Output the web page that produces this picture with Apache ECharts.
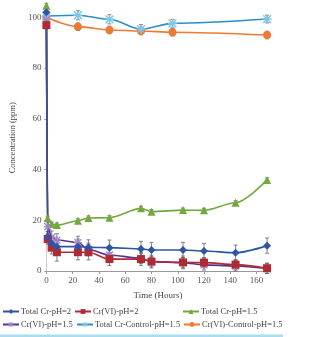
<!DOCTYPE html>
<html>
<head>
<meta charset="utf-8">
<script src="https://cdn.jsdelivr.net/npm/echarts@6/dist/echarts.min.js"></script>
<style>
  html, body { margin: 0; padding: 0; background: #fff; }
  #main { width: 313px; height: 337px; }
</style>
</head>
<body>
<div id="main"></div>
<script>
// sampling times (hours)
var hours = [0, 1, 4, 8, 24, 32, 48, 72, 80, 104, 120, 144, 168];
var hoursControl = [0, 24, 48, 72, 96, 168];

// concentrations (ppm)
var totalCrPh2 = [102, 13.5, 10.9, 9.6, 9.6, 9.3, 9.2, 8.7, 8.3, 8.3, 7.9, 7.2, 10.0];
var crVIPh2 = [96.9, 12.6, 9.2, 7.4, 7.4, 7.4, 4.7, 4.7, 3.7, 3.4, 3.3, 2.5, 1.1];
var totalCrPh15 = [104.5, 20.8, 18.5, 18.1, 19.8, 20.9, 21.0, 24.7, 23.4, 24.0, 23.9, 26.9, 35.9];
var crVIPh15 = [99, 17.5, 13.3, 12.2, 11.2, 8.5, 6.3, 5.0, 3.7, 3.3, 2.4, 2.0, 1.0];
var totalCrCtrl = [100.5, 100.8, 99.2, 95.3, 97.6, 99.3];
var crVICtrl = [100, 96.3, 95.0, 94.6, 94.1, 93.0];

// error (+/-)
var errTotalCrPh2 = [1.5, 2, 2.5, 2.5, 3, 3, 3, 3, 3, 3, 3, 3, 3];
var errCrVIPh2 = [1.5, 2, 2.5, 3.5, 3, 3, 2.5, 2.5, 2.5, 2.5, 2, 2, 2];
var errTotalCrPh15 = [1, 0.8, 0.8, 0.8, 0.8, 0.8, 0.8, 0.8, 0.8, 0.8, 0.8, 0.8, 0.8];
var errCrVIPh15 = [1.5, 2, 2.5, 2.5, 2.5, 2.5, 2, 2, 2, 2, 2, 2, 2];
var errTotalCrCtrl = [1.2, 1.8, 1.8, 1.8, 1.5, 1.5];
var errCrVICtrl = [1.2, 1.5, 1.5, 1.5, 1.5, 1.5];

var names = ['Total Cr-pH=2', 'Cr(VI)-pH=2', 'Total Cr-pH=1.5',
             'Cr(VI)-pH=1.5', 'Total Cr-Control-pH=1.5', 'Cr(VI)-Control-pH=1.5'];

var asterisk = 'path://M4.2,0H5.8V10H4.2Z M0,4.2H10V5.8H0Z M1.2,0.1L9.9,8.8L8.8,9.9L0.1,1.2Z M8.8,0.1L9.9,1.2L1.2,9.9L0.1,8.8Z';
var serif = 'Liberation Serif';

var pairs = function (xs, ys) {
    return xs.map(function (x, i) { return [x, ys[i]]; });
};
var errData = function (xs, ys, es) {
    return xs.map(function (x, i) { return [x, ys[i] - es[i], ys[i] + es[i]]; });
};
var errSeries = function (xs, ys, es) {
    return {
        type: 'custom',
        silent: true,
        z: 1,
        data: errData(xs, ys, es),
        renderItem: function (params, api) {
            var lo = api.coord([api.value(0), api.value(1)]);
            var hi = api.coord([api.value(0), api.value(2)]);
            var w = 2;
            var st = { stroke: '#666', lineWidth: 0.8 };
            return {
                type: 'group',
                children: [
                    { type: 'line', shape: { x1: lo[0], y1: lo[1], x2: hi[0], y2: hi[1] }, style: st },
                    { type: 'line', shape: { x1: lo[0] - w, y1: lo[1], x2: lo[0] + w, y2: lo[1] }, style: st },
                    { type: 'line', shape: { x1: hi[0] - w, y1: hi[1], x2: hi[0] + w, y2: hi[1] }, style: st }
                ]
            };
        }
    };
};
var lineSeries = function (name, xs, ys, color, symbol, size, markColor) {
    return {
        name: name,
        type: 'line',
        z: 3,
        smooth: 0.3,
        smoothMonotone: 'x',
        data: pairs(xs, ys),
        symbol: symbol,
        symbolSize: size,
        showAllSymbol: true,
        lineStyle: { color: color, width: 1.6 },
        itemStyle: { color: markColor || color, borderWidth: 0 }
    };
};

var legendItem = function (name, left, top) {
    return {
        data: [name],
        left: left,
        top: top,
        itemWidth: 16,
        itemHeight: 6,
        padding: 0,
        selectedMode: false,
        textStyle: { fontFamily: serif, fontSize: 8.5, color: '#444', padding: [0, 0, 0, -3] }
    };
};

var chart = echarts.init(document.getElementById('main'));
chart.setOption({
    animation: false,
    backgroundColor: '#fff',
    grid: { left: 31.7, right: 43.3, top: 4.6, bottom: 66 },
    legend: [
        legendItem(names[0], 2, 307),
        legendItem(names[1], 74, 307),
        legendItem(names[2], 182, 307),
        legendItem(names[3], 2, 320),
        legendItem(names[4], 76, 320),
        legendItem(names[5], 183, 320)
    ],
    xAxis: {
        type: 'value',
        min: 0,
        max: 170,
        interval: 20,
        name: 'Time (Hours)',
        nameLocation: 'middle',
        nameGap: 20,
        nameTextStyle: { fontFamily: serif, fontSize: 9, color: '#444' },
        axisLine: { lineStyle: { color: '#999', width: 1 } },
        axisTick: { show: true, length: 3, lineStyle: { color: '#999' } },
        axisLabel: { fontFamily: serif, fontSize: 9, color: '#555', margin: 5, showMaxLabel: false },
        splitLine: { show: false }
    },
    yAxis: {
        type: 'value',
        min: 0,
        max: 105,
        interval: 20,
        name: 'Concentration (ppm)',
        nameLocation: 'middle',
        nameGap: 29,
        nameTextStyle: { fontFamily: serif, fontSize: 8.5, color: '#444' },
        axisLine: { show: true, lineStyle: { color: '#ccc', width: 1 } },
        axisTick: { show: true, length: 2, lineStyle: { color: '#999' } },
        axisLabel: { fontFamily: serif, fontSize: 9, color: '#555', margin: 5, showMaxLabel: false },
        splitLine: { show: false }
    },
    graphic: [{
        type: 'rect',
        shape: { x: 0, y: 334.5, width: 283, height: 2.5 },
        style: { fill: '#a9dcec' }
    }],
    series: [
        errSeries(hours, totalCrPh2, errTotalCrPh2),
        errSeries(hours, crVIPh2, errCrVIPh2),
        errSeries(hours, totalCrPh15, errTotalCrPh15),
        errSeries(hours, crVIPh15, errCrVIPh15),
        errSeries(hoursControl, totalCrCtrl, errTotalCrCtrl),
        errSeries(hoursControl, crVICtrl, errCrVICtrl),
        lineSeries(names[5], hoursControl, crVICtrl, '#ec7a34', 'circle', 8),
        lineSeries(names[4], hoursControl, totalCrCtrl, '#2a8fc6', asterisk, 9, '#7ec8e6'),
        lineSeries(names[2], hours, totalCrPh15, '#72a83c', 'triangle', 8),
        lineSeries(names[3], hours, crVIPh15, '#5b2f8e', asterisk, 8, '#9a86c8'),
        lineSeries(names[1], hours, crVIPh2, '#b02a35', 'rect', 8),
        lineSeries(names[0], hours, totalCrPh2, '#2b55a6', 'diamond', 8)
    ]
});
</script>
</body>
</html>
